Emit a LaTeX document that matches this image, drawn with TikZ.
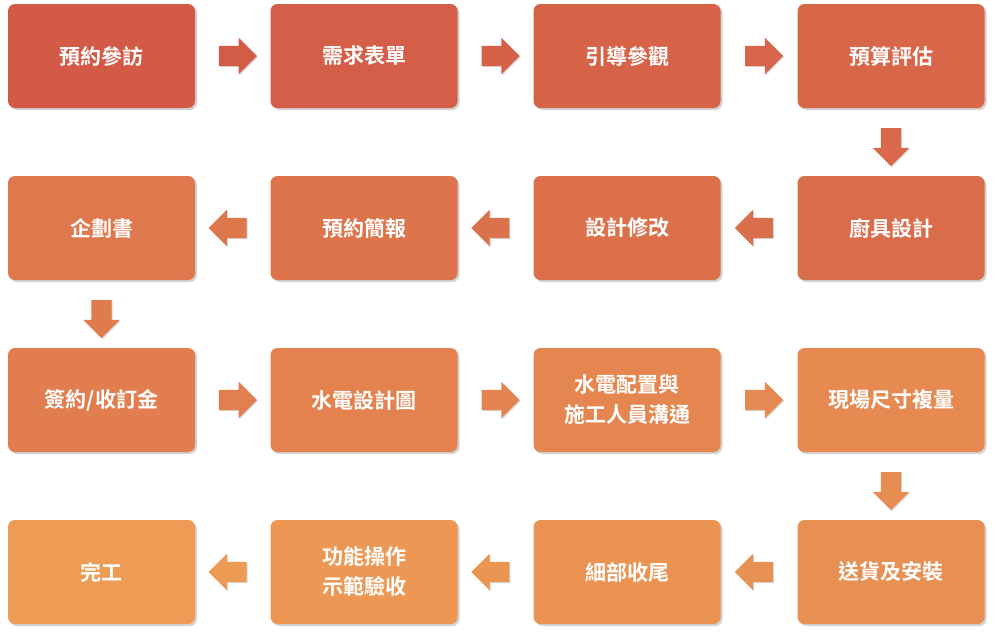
\documentclass[tikz,border=0pt]{standalone}
\usepackage{fontspec}
\newfontfamily\cjk{Noto Sans CJK TC}[BoldFont={* Bold}]
\usetikzlibrary{shapes.arrows,shadows,calc}
\definecolor{cA}{HTML}{D25A46}
\definecolor{cB}{HTML}{EE9C55}
\tikzset{
 box/.style={draw=none,rounded corners=7pt,minimum width=187pt,minimum height=104pt,
   text=white,font=\cjk\bfseries\fontsize{21}{30}\selectfont,align=center,
   drop shadow={shadow xshift=2pt,shadow yshift=-2pt,opacity=0.35}},
 arr/.style={single arrow,draw=none,minimum width=36pt,single arrow head extend=8pt,
   minimum height=38pt,inner sep=10pt,drop shadow={shadow xshift=1pt,shadow yshift=-1pt,opacity=0.3}}
}
\begin{document}
\begin{tikzpicture}[x=1pt,y=-1pt]
\useasboundingbox (0,0) rectangle (996,635);
\foreach \t/\c/\r/\k [count=\i from 0] in {預約參訪/0/0/0,需求表單/1/0/1,引導參觀/2/0/2,預算評估/3/0/3,
 廚具設計/3/1/4,設計修改/2/1/5,預約簡報/1/1/6,企劃書/0/1/7,
 {簽約{/}收訂金}/0/2/8,水電設計圖/1/2/9,{水電配置與\\施工人員溝通}/2/2/10,現場尺寸複量/3/2/11,
 送貨及安裝/3/3/12,細部收尾/2/3/13,{功能操作\\示範驗收}/1/3/14,完工/0/3/15}{
 \pgfmathsetmacro\pc{100-\k*100/15}
 \pgfmathsetmacro\xx{ifthenelse(\c==0,101.5,ifthenelse(\c==1,364,ifthenelse(\c==2,627,891)))}
 \pgfmathsetmacro\yy{56+\r*172}
 \node[box,fill=cA!\pc!cB] (n\k) at (\xx,\yy) {\t};
}
\foreach \a/\b/\ang in {0/1/0,1/2/0,2/3/0,3/4/270,4/5/180,5/6/180,6/7/180,7/8/270,8/9/0,9/10/0,10/11/0,11/12/270,12/13/180,13/14/180,14/15/180}{
 \pgfmathsetmacro\pc{100-(\a+0.5)*100/15}
 \node[arr,fill=cA!\pc!cB,shape border rotate=\ang] (a\a) at ($(n\a)!0.5!(n\b)$) {};
}
\end{tikzpicture}
\end{document}
